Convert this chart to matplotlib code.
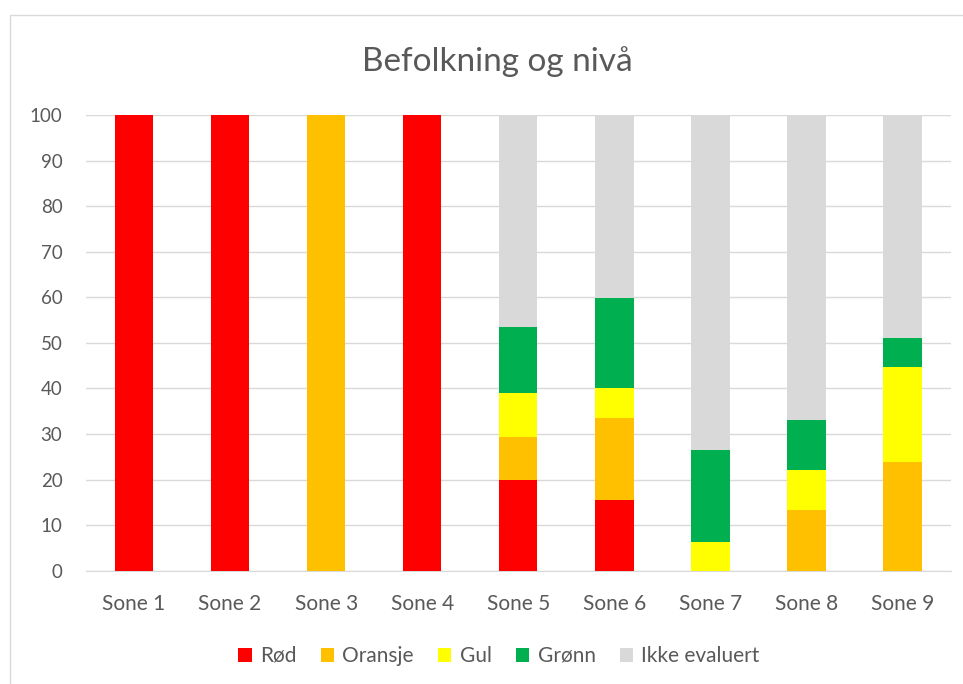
import matplotlib
matplotlib.use("Agg")
import matplotlib.pyplot as plt
from matplotlib.patches import Rectangle
import numpy as np

categories = ["Sone 1", "Sone 2", "Sone 3", "Sone 4", "Sone 5", "Sone 6", "Sone 7", "Sone 8", "Sone 9"]
rod = [100, 100, 0, 100, 19.9, 15.5, 0, 0, 0]
oransje = [0, 0, 100, 0, 9.5, 17.9, 0, 13.3, 23.8]
gul = [0, 0, 0, 0, 9.5, 6.8, 6.2, 8.7, 20.9]
gronn = [0, 0, 0, 0, 14.6, 19.7, 20.3, 11.0, 6.3]
ikke = [0, 0, 0, 0, 46.5, 40.1, 73.5, 67.0, 49.0]
series_names = ["Rød", "Oransje", "Gul", "Grønn", "Ikke evaluert"]
colors = ["#FF0000", "#FFC000", "#FFFF00", "#00B050", "#D9D9D9"]
yticks = [0, 10, 20, 30, 40, 50, 60, 70, 80, 90, 100]

plt.rcParams['font.family'] = ['Lato', 'DejaVu Sans']
text_color = "#595959"

fig = plt.figure(figsize=(9.63, 6.84), dpi=100)
fig.patches.append(Rectangle((10/963, -0.1), 1.2, (684-15)/684 + 0.1, transform=fig.transFigure,
                             fill=False, edgecolor="#D9D9D9", linewidth=1.0))
ax = fig.add_axes([86/963, (684-570.7)/684, (950.5-86)/963, (570.7-115)/684])

x = np.arange(len(categories))
bottom = np.zeros(len(categories))
for name, vals, c in zip(series_names, [rod, oransje, gul, gronn, ikke], colors):
    vals = np.array(vals, dtype=float)
    ax.bar(x, vals, width=0.4, bottom=bottom, color=c, label=name, zorder=3)
    bottom += vals

ax.set_xlim(-0.5, len(categories) - 0.5)
ax.set_ylim(0, 100)
ax.set_yticks(yticks)
ax.set_yticklabels([str(v) for v in yticks])
ax.set_xticks(x)
ax.set_xticklabels(categories)
ax.grid(axis='y', color="#D9D9D9", linewidth=1.0, zorder=0)
for s in ["top", "right", "left"]:
    ax.spines[s].set_visible(False)
ax.spines["bottom"].set_color("#D9D9D9")
ax.tick_params(axis='both', length=0, colors=text_color)
ax.tick_params(axis='y', pad=17, labelsize=13.5)
ax.tick_params(axis='x', pad=17, labelsize=15)

fig.text(497/963, (684-62)/684, "Befolkning og nivå", ha='center', va='center',
         fontsize=24, color=text_color)

handles, labels = ax.get_legend_handles_labels()
fig.legend(handles, labels, loc='center', bbox_to_anchor=(499/963, (684-656)/684), ncol=5,
           frameon=False, fontsize=15, labelcolor=text_color, handlelength=0.65,
           handleheight=0.65, handletextpad=0.4, columnspacing=1.15)

fig.savefig("out.png", dpi=100)
